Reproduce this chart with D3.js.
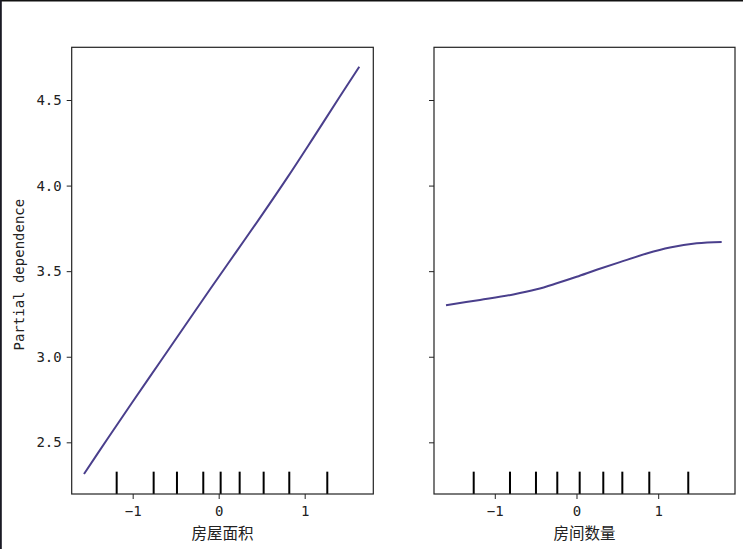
<!DOCTYPE html>
<html>
<head>
<meta charset="utf-8">
<script src="https://cdn.jsdelivr.net/npm/d3@7"></script>
<style>
  html, body { margin: 0; padding: 0; background: #fff; }
  svg { display: block; }
</style>
</head>
<body>
<svg id="chart" width="743" height="549"></svg>
<script>
// ---- data ----
const areaX = [-1.566, -1.3, -1.0, -0.7, -0.4, -0.1, 0.2, 0.5, 0.8, 1.1, 1.4, 1.635];
const areaY = [2.315, 2.515, 2.737, 2.956, 3.175, 3.394, 3.610, 3.826, 4.048, 4.279, 4.513, 4.694];
const areaDeciles = [-1.186, -0.756, -0.485, -0.179, 0.023, 0.244, 0.523, 0.821, 1.263];

const roomsX = [-1.597, -1.181, -0.773, -0.487, -0.242, 0.002, 0.247, 0.532, 0.859, 1.144, 1.471, 1.777];
const roomsY = [3.301, 3.332, 3.364, 3.394, 3.429, 3.467, 3.508, 3.553, 3.603, 3.638, 3.663, 3.671];
const roomsDeciles = [-1.258, -0.814, -0.496, -0.235, 0.039, 0.328, 0.561, 0.891, 1.368];

const xTicks = [-1, 0, 1];
const yTicks = [2.5, 3.0, 3.5, 4.0, 4.5];
const xLabels = ["房屋面积", "房间数量"];
const yLabel = "Partial dependence";

// ---- layout ----
(function () {
const svg = d3.select("#chart");
const plotTop = 47.3, plotBottom = 494;
const y = d3.scaleLinear().domain([2.198, 4.808]).range([plotBottom, plotTop]);

// screenshot border
svg.append("rect").attr("x", 0).attr("y", 0).attr("width", 743).attr("height", 1.5).attr("fill", "#111");
svg.append("rect").attr("x", 0).attr("y", 0).attr("width", 1.8).attr("height", 549).attr("fill", "#1a1a24");

const panels = [
  { xs: areaX, ys: areaY, dec: areaDeciles, domain: [-1.709, 1.798], range: [71.7, 373.3], label: xLabels[0], showY: true },
  { xs: roomsX, ys: roomsY, dec: roomsDeciles, domain: [-1.744, 1.94], range: [434, 735], label: xLabels[1], showY: false }
];

const tickFont = "'DejaVu Sans Mono', 'Liberation Mono', monospace";
const cjkFont = "'Noto Sans CJK SC', sans-serif";

panels.forEach(p => {
  const x = d3.scaleLinear().domain(p.domain).range(p.range);
  const g = svg.append("g");

  // deciles
  const decH = (plotBottom - plotTop) * 0.05;
  g.selectAll("line.dec").data(p.dec).enter().append("line")
    .attr("class", "dec")
    .attr("x1", d => x(d)).attr("x2", d => x(d))
    .attr("y1", plotBottom).attr("y2", plotBottom - decH)
    .attr("stroke", "#000").attr("stroke-width", 2);

  // line
  const pts = p.xs.map((v, i) => [v, p.ys[i]]);
  g.append("path").datum(pts)
    .attr("fill", "none")
    .attr("stroke", "#4a3f8c")
    .attr("stroke-width", 2)
    .attr("d", d3.line().x(d => x(d[0])).y(d => y(d[1])).curve(d3.curveCatmullRom.alpha(0.5)));

  // x axis
  const xa = g.append("g").attr("transform", `translate(0,${plotBottom})`)
    .call(d3.axisBottom(x).tickValues(xTicks).tickSize(5).tickPadding(7).tickFormat(d3.format("d")));
  xa.select(".domain").remove();
  xa.selectAll("line").attr("stroke", "#222");
  xa.selectAll("text").attr("font-family", tickFont).attr("font-size", 14).attr("fill", "#222");

  // y axis
  const ya = g.append("g").attr("transform", `translate(${p.range[0]},0)`)
    .call(d3.axisLeft(y).tickValues(yTicks).tickSize(5).tickPadding(5).tickFormat(p.showY ? d3.format(".1f") : () => ""));
  ya.select(".domain").remove();
  ya.selectAll("line").attr("stroke", "#222");
  ya.selectAll("text").attr("font-family", tickFont).attr("font-size", 14).attr("fill", "#222");

  // frame
  g.append("rect")
    .attr("x", p.range[0]).attr("y", plotTop)
    .attr("width", p.range[1] - p.range[0]).attr("height", plotBottom - plotTop)
    .attr("fill", "none").attr("stroke", "#222").attr("stroke-width", 1.2);

  // x label
  g.append("text")
    .attr("x", (p.range[0] + p.range[1]) / 2).attr("y", 539)
    .attr("text-anchor", "middle")
    .attr("font-family", cjkFont).attr("font-size", 15.5).attr("fill", "#222")
    .text(p.label);
});

// y label
svg.append("text")
  .attr("transform", `translate(24,${(plotTop + plotBottom) / 2 + 4}) rotate(-90)`)
  .attr("text-anchor", "middle")
  .attr("font-family", tickFont).attr("font-size", 14).attr("fill", "#222")
  .text(yLabel);
})();
</script>
</body>
</html>
